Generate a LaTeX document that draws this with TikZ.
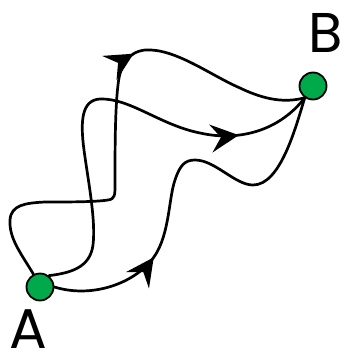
\documentclass[tikz,border=0pt]{standalone}
\usepackage{fontspec}
\setmainfont{Poppins}
\usetikzlibrary{arrows.meta,decorations.markings}
\definecolor{dotgreen}{RGB}{0,170,75}
\pgfdeclarelayer{bg}\pgfsetlayers{bg,main}
\begin{document}
\begin{tikzpicture}[x=1pt,y=-1pt,
  dot/.style={circle,fill=dotgreen,draw=black,line width=1.8pt,minimum size=27pt,inner sep=0pt},
  lbl/.style={font=\fontsize{56}{56}\selectfont,inner sep=0pt,text depth=0pt,anchor=base},
  route/.style={line width=2.7pt,line cap=round},
  arrowat/.style={postaction={decorate},decoration={markings,mark=at position #1 with {\arrow{Stealth[length=28pt,width=28pt,inset=10pt]}}}}]
\useasboundingbox (0,0) rectangle (345,359);
\node[dot] (A) at (40,287) {};
\node[dot] (B) at (313,86) {};
\node[lbl] (la) at (28.5,348) {A};
\node[lbl] (lb) at (326,52) {B};
\begin{pgfonlayer}{bg}
% bottom route
\draw[route,arrowat=110pt] (A.0) .. controls (90,298) and (130,285) .. (150,262)
  .. controls (170,240) and (168,200) .. (175,180)
  .. controls (180,165) and (185,160) .. (195,160)
  .. controls (215,160) and (235,185) .. (253,185)
  .. controls (280,185) and (295,130) .. (B.235);
% upper route
\draw[route,arrowat=322pt] (A.117) .. controls (20,252) and (9,238) .. (10,220)
  .. controls (11,205) and (25,203) .. (45,202)
  .. controls (70,202) and (95,202) .. (108,200)
  .. controls (115,199) and (115,195) .. (115,185)
  .. controls (115,150) and (115,110) .. (118,85)
  .. controls (120,65) and (128,52) .. (145,50)
  .. controls (175,48) and (210,75) .. (240,88)
  .. controls (265,100) and (285,103) .. (B.235);
% middle route
\draw[route,arrowat=360pt] (A.52) .. controls (70,273) and (90,268) .. (93,245)
  .. controls (96,220) and (88,180) .. (84,150)
  .. controls (80,120) and (82,100) .. (100,99)
  .. controls (130,98) and (160,125) .. (200,133)
  .. controls (240,142) and (280,130) .. (B.235);
\end{pgfonlayer}
\end{tikzpicture}
\end{document}
